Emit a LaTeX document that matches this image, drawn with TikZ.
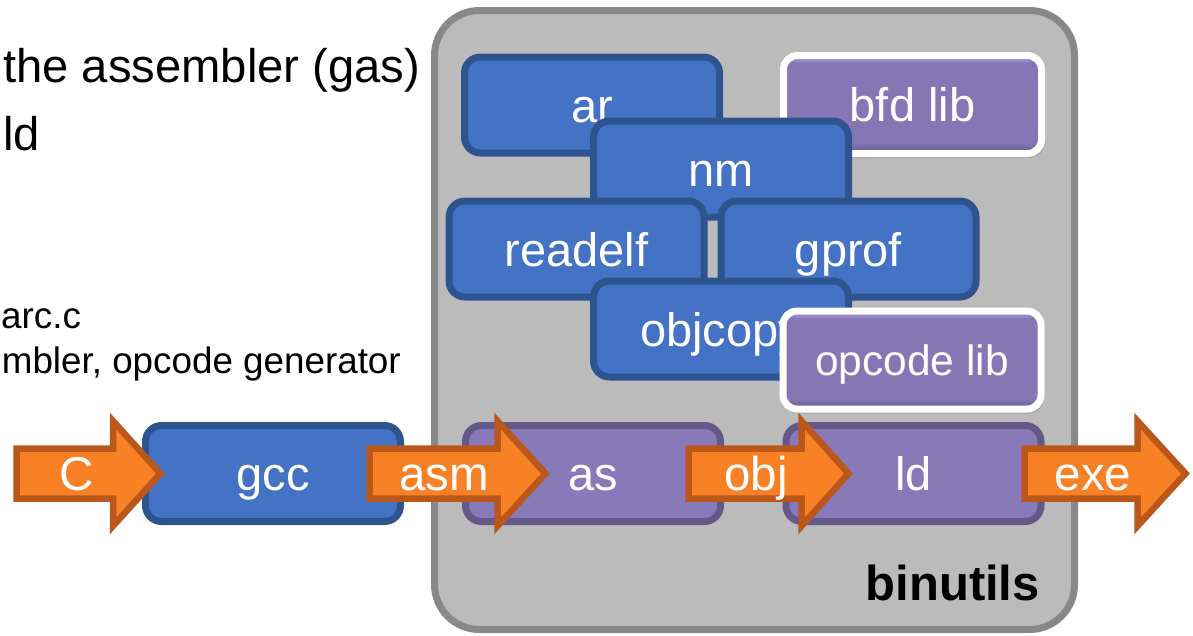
\documentclass[tikz,border=0pt]{standalone}
\usepackage{fontspec}
\setmainfont{Liberation Sans}
\usetikzlibrary{shadows.blur}

\definecolor{toolblue}{HTML}{4472C4}
\definecolor{toolblueedge}{HTML}{2E5490}
\definecolor{binpurple}{HTML}{887AB8}
\definecolor{binpurpleedge}{HTML}{645889}
\definecolor{libpurple}{HTML}{8577B3}
\definecolor{libtop}{HTML}{9587C6}
\definecolor{libbottom}{HTML}{675B8F}
\definecolor{flowfill}{HTML}{F98125}
\definecolor{flowedge}{HTML}{B9581A}
\definecolor{binfill}{HTML}{BBBBBB}
\definecolor{binedge}{HTML}{888888}

\tikzset{
  basebox/.style={line width=7pt, rounded corners=16pt, minimum width=255pt,
    minimum height=96pt, inner sep=0pt, text=white, text height=34pt, text depth=0pt,
    font=\fontsize{47}{50}\selectfont},
  toolbox/.style={basebox, draw=toolblueedge, fill=toolblue},
  binbox/.style={basebox, draw=binpurpleedge, fill=binpurple},
  libbox/.style={basebox, draw=white, fill=libpurple, minimum width=258pt,
    minimum height=98pt, rounded corners=14pt,
    blur shadow={shadow xshift=1pt, shadow yshift=-2pt, shadow blur steps=6, shadow opacity=35},
    path picture={
      \fill[libtop] (path picture bounding box.north west) rectangle
        ([yshift=-7pt]path picture bounding box.north east);
      \shade[top color=libpurple, bottom color=libbottom]
        ([yshift=11pt]path picture bounding box.south west) rectangle
        (path picture bounding box.south east);
    }},
  flowarrow/.style={draw=flowedge, fill=flowfill, line width=6.5pt, miter limit=10},
  flowlabel/.style={text=white, inner sep=0pt, anchor=base,
    font=\fontsize{47.5}{50}\selectfont},
  prose/.style={inner sep=0pt, font=\fontsize{47.2}{54}\selectfont},
  smallprose/.style={inner sep=0pt, font=\fontsize{36.8}{42}\selectfont},
}

% block arrow: left x, head base x, tip x
\newcommand{\flowshape}[3]{%
  \draw[flowarrow] (#1,448.5) -- (#2,448.5) -- (#2,421) -- (#3,473.5)
    -- (#2,526) -- (#2,498.5) -- (#1,498.5) -- cycle;}

\begin{document}
\begin{tikzpicture}[x=1pt, y=-1pt]
\useasboundingbox (0,0) rectangle (1193,635);

% text lines on the left
\node[prose, anchor=base west] (line1) at (3,82) {the assembler (gas)};
\node[prose, anchor=base west] (line2) at (3,150) {ld};
\node[smallprose, anchor=base west] (line3) at (1,328) {arc.c};
\node[smallprose, anchor=base east] (line4) at (401,373) {mbler, opcode generator};

% binutils container
\node[draw=binedge, fill=binfill, line width=7pt, rounded corners=45pt,
  minimum width=640pt, minimum height=619pt, inner sep=0pt] (binutils) at (754.5,320) {};
\node[anchor=base east, inner sep=0pt, font=\bfseries\fontsize{49}{52}\selectfont]
  (binlabel) at (1040,600) {binutils};

% tools inside binutils (later ones overlap earlier ones)
\node[toolbox] (ar) at (592,105) {ar};
\node[libbox] (bfd) at (912.5,104.5) {bfd lib};
\node[toolbox] (nm) at (721,169) {nm};
\node[toolbox] (readelf) at (576.5,249) {readelf};
\node[toolbox] (gprof) at (848.5,249) {gprof};
\node[toolbox] (objcopy) at (721,329) {objcopy};
\node[libbox, font=\fontsize{42.5}{46}\selectfont, text height=31pt] (opcode) at (912,360) {opcode lib};

% toolchain row
\node[toolbox] (gcc) at (273,473.5) {gcc};
\node[binbox] (as) at (593,473.5) {as};
\node[binbox] (ld) at (913.5,473.5) {ld};

% data flowing through the toolchain
\flowshape{16.5}{113}{160.5}
\node[flowlabel] (lC) at (77,490) {C};
\flowshape{369.5}{497.5}{545.5}
\node[flowlabel] (lasm) at (444,490) {asm};
\flowshape{688.5}{801.5}{848.5}
\node[flowlabel] (lobj) at (756,490) {obj};
\flowshape{1024.5}{1137.5}{1185.5}
\node[flowlabel] (lexe) at (1093,490) {exe};
\end{tikzpicture}
\end{document}
